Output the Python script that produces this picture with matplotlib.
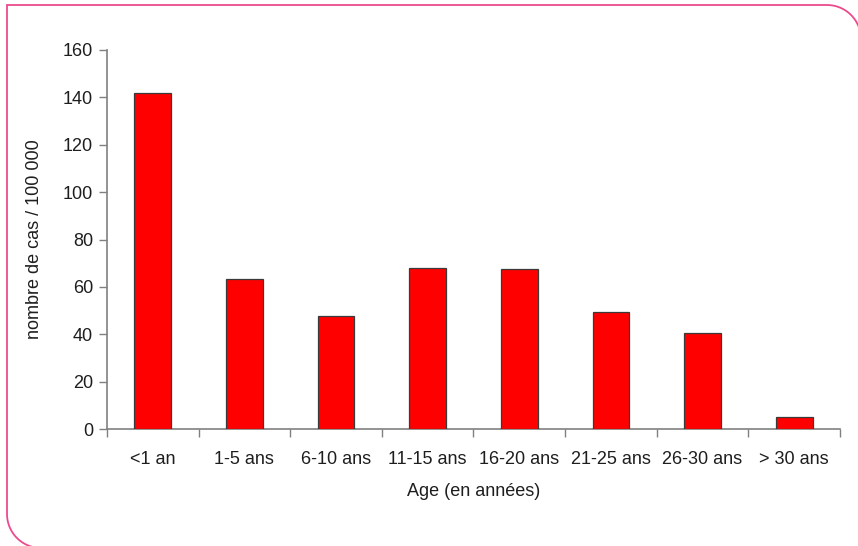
import matplotlib
matplotlib.use("Agg")
import matplotlib.pyplot as plt
from matplotlib.path import Path
from matplotlib.patches import PathPatch
import numpy as np

categories = ["<1 an", "1-5 ans", "6-10 ans", "11-15 ans", "16-20 ans",
              "21-25 ans", "26-30 ans", "> 30 ans"]
cases = [142, 63.5, 47.5, 68, 67.5, 49.5, 40.5, 5]

plt.rcParams['font.family'] = ['Liberation Sans', 'DejaVu Sans']

W, H = 858, 546
fig = plt.figure(figsize=(W / 100, H / 100), dpi=100)
fig.patch.set_facecolor("white")


def frame_path(left, top, right, bottom, r):
    # pixel coords (y down) -> inches (y up)
    pts = []
    a = np.linspace(0, np.pi / 2, 20)
    pts.append((right, bottom))
    pts.append((right, top + r))
    for t in a:
        pts.append((right - r + r * np.cos(t), top + r - r * np.sin(t)))
    pts.append((left, top))
    pts.append((left, bottom - r))
    for t in a:
        pts.append((left + r - r * np.cos(t), bottom - r + r * np.sin(t)))
    pts.append((right, bottom))
    verts = [(x / 100, (H - y) / 100) for x, y in pts]
    return Path(verts)


frame = PathPatch(frame_path(7, 5, 861, 548, 34), facecolor="none",
                  edgecolor="#ec4a8e", linewidth=1.3,
                  transform=fig.dpi_scale_trans)
fig.patches.append(frame)

fs = 13
tc = "#1e1e1e"

ax = fig.add_axes([107 / W, 1 - 429 / H, (840 - 107) / W, (429 - 50) / H])
x = np.arange(len(categories))
ax.bar(x, cases, width=0.4, color="#ff0000", edgecolor="#3a3a3a",
       linewidth=0.9, zorder=3)

ax.set_xlim(-0.5, len(categories) - 0.5)
ax.set_ylim(0, 160)
ax.set_yticks(range(0, 161, 20))

ax.set_xticks(x)
ax.set_xticklabels(categories)
ax.set_xticks(np.arange(-0.5, len(categories), 1), minor=True)
ax.tick_params(axis="x", which="major", length=0, pad=15.5, labelsize=fs,
               labelcolor=tc)
ax.tick_params(axis="x", which="minor", length=6, width=1, color="#808080",
               direction="out")
ax.tick_params(axis="y", length=6, width=1, color="#808080", pad=4,
               labelsize=fs, labelcolor=tc)

for s in ["top", "right"]:
    ax.spines[s].set_visible(False)
for s in ["left", "bottom"]:
    ax.spines[s].set_color("#808080")
    ax.spines[s].set_linewidth(1.2)

ax.set_xlabel("Age (en années)", fontsize=fs, color=tc, labelpad=11)
ax.set_ylabel("nombre de cas / 100 000", fontsize=fs, color=tc,
              labelpad=14)

fig.savefig("out.png", dpi=100, facecolor="white")
